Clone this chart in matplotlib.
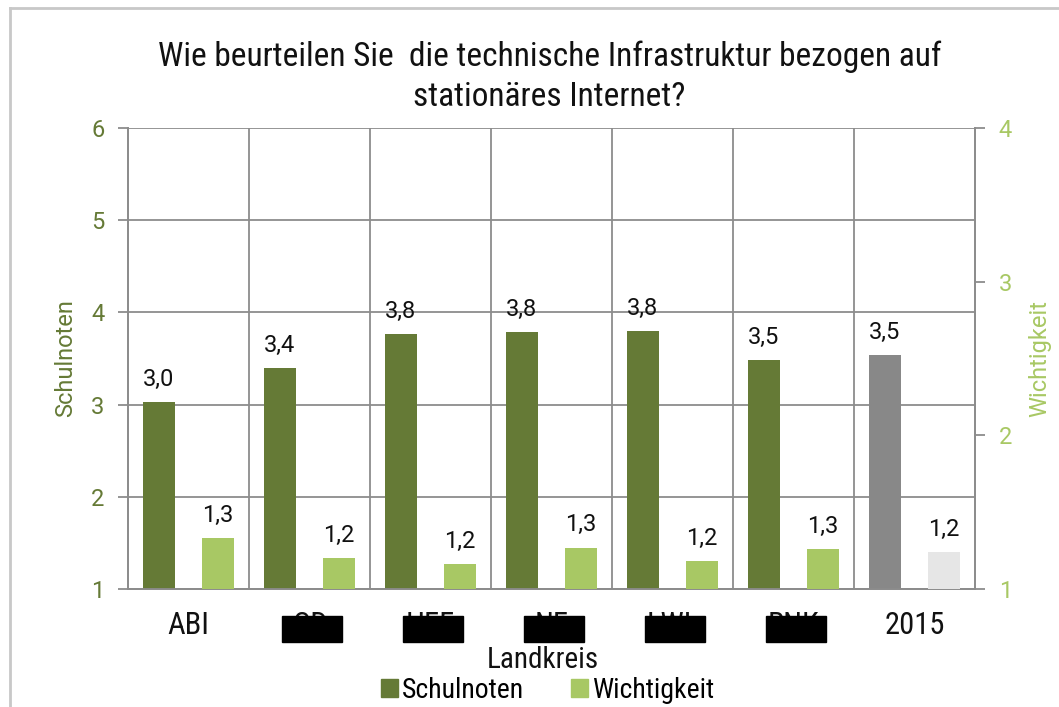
import numpy as np
import matplotlib
matplotlib.use("Agg")
from matplotlib import pyplot as plt
from matplotlib.patches import Rectangle, Patch
from matplotlib.lines import Line2D
import matplotlib.transforms as mtransforms

# Daten
kreise = ['ABI', 'OD', 'HEF', 'NE', 'LWL', 'RNK', '2015']
schulnoten = [3.03, 3.40, 3.77, 3.79, 3.80, 3.48, 3.54]
wichtigkeit = [1.33, 1.20, 1.16, 1.27, 1.18, 1.26, 1.24]
schul_labels = ['3,0', '3,4', '3,8', '3,8', '3,8', '3,5', '3,5']
wicht_labels = ['1,3', '1,2', '1,2', '1,3', '1,2', '1,3', '1,2']
geschwaerzt = ['OD', 'HEF', 'NE', 'LWL', 'RNK']

dunkel = '#657a36'
hell = '#a8c864'
grau = '#888888'
hellgrau = '#e6e6e6'
gitter = '#8c8c8c'

narrow = ['Liberation Sans Narrow', 'Roboto Condensed', 'DejaVu Sans']
zahl = ['Roboto', 'DejaVu Sans']

fig = plt.figure(figsize=(10.59, 7.07), dpi=100)
ax = fig.add_axes([128/1059, 1-589/707, (975-128)/1059, (589-128)/707])
ax2 = ax.twinx()

x = np.arange(len(kreise))
farben1 = [dunkel]*6 + [grau]
farben2 = [hell]*6 + [hellgrau]

ax.set_xlim(-0.5, len(kreise)-0.5)
ax.set_ylim(1, 6)
ax2.set_ylim(1, 4)

# Gitter zuerst
ax.set_axisbelow(True)
ax.set_yticks([1, 2, 3, 4, 5, 6])
ax.grid(axis='y', color=gitter, linewidth=1.3)
ax.set_xticks(x)
ax.set_xticks(x[:-1] + 0.5, minor=True)
ax.grid(axis='x', which='minor', color=gitter, linewidth=1.3)
ax.tick_params(axis='x', which='both', length=0)

ax.bar(x - 0.245, schulnoten, width=0.27, color=farben1, zorder=3)
ax2.bar(x + 0.245, wichtigkeit, width=0.27, color=farben2, zorder=3)

for xi, v, t in zip(x, schulnoten, schul_labels):
    ax.annotate(t, (xi - 0.245, v), xytext=(0, 8), textcoords='offset points',
                ha='center', va='bottom', fontsize=17, family=zahl, color='#111111')
for xi, v, t in zip(x, wichtigkeit, wicht_labels):
    ax2.annotate(t, (xi + 0.245, v), xytext=(0, 8), textcoords='offset points',
                 ha='center', va='bottom', fontsize=17, family=zahl, color='#111111')

# Achsen
for a in (ax, ax2):
    a.spines['top'].set_visible(False)
    for s in ('left', 'right', 'bottom'):
        a.spines[s].set_color(gitter)
        a.spines[s].set_linewidth(1.3)
ax2.set_yticks([1, 2, 3, 4])

ax.set_xticklabels(kreise, fontsize=22, family=narrow, color='#111111')
ax.tick_params(axis='x', pad=16)
ax.tick_params(axis='y', length=7, width=1.3, color=gitter, labelcolor=dunkel,
               labelsize=17, pad=10)
ax2.tick_params(axis='y', length=7, width=1.3, color=gitter, labelcolor=hell,
                labelsize=17, pad=10)
for lab in ax.get_yticklabels() + ax2.get_yticklabels():
    lab.set_family(zahl)

ax.set_ylabel('Schulnoten', fontsize=17, family=zahl, color=dunkel, labelpad=10)
ax2.set_ylabel('Wichtigkeit', fontsize=17, family=zahl, color=hell, labelpad=12,
               rotation=90)
fig.text(0.513, 1-660/707, 'Landkreis', ha='center', va='center', fontsize=21,
         family=narrow, color='#111111')

# geschwaerzte Beschriftungen
trans = mtransforms.blended_transform_factory(ax.transData, fig.transFigure)
for name in geschwaerzt:
    i = kreise.index(name)
    ax.add_patch(Rectangle((i + 0.02 - 0.25, 1-642/707), 0.5, 26/707,
                           transform=trans, color='black', clip_on=False, zorder=5))

fig.suptitle('Wie beurteilen Sie  die technische Infrastruktur bezogen auf\nstationäres Internet?',
             x=0.519, y=0.942, fontsize=24, family=narrow, color='#111111', linespacing=1.32)

handles = [Patch(color=dunkel), Patch(color=hell)]
fig.legend(handles, ['Schulnoten', 'Wichtigkeit'], loc='center',
           bbox_to_anchor=(0.517, 1-690/707), ncol=2, frameon=False,
           prop={'family': narrow, 'size': 20}, handlelength=0.6, handleheight=0.6,
           handletextpad=0.15, columnspacing=1.7, borderpad=0)

# Rahmen
fig.add_artist(Line2D([10/1059, 10/1059], [0, 1-7.5/707], transform=fig.transFigure,
                      color='#c8c8c8', linewidth=2))
fig.add_artist(Line2D([10/1059, 1], [1-7.5/707, 1-7.5/707], transform=fig.transFigure,
                      color='#c8c8c8', linewidth=2))

fig.savefig('out.png', dpi=100)
